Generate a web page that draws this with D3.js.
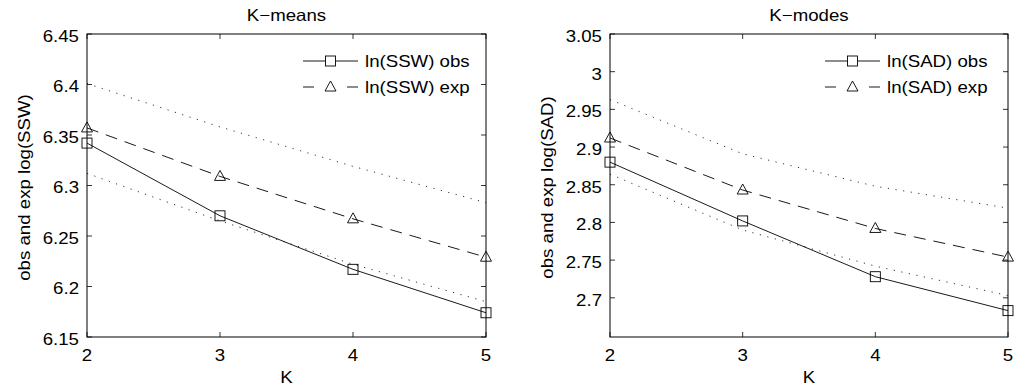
<!DOCTYPE html>
<html>
<head>
<meta charset="utf-8">
<script src="https://cdn.jsdelivr.net/npm/d3@7"></script>
<style>
  body { margin: 0; background: #fff; }
  text { font-family: "Liberation Sans", Arial, Helvetica, sans-serif; fill: #000; }
</style>
</head>
<body>
<script>
var width = 1015;
var height = 389;

// data
var kValues = [2, 3, 4, 5];

var sswObs   = [6.342, 6.270, 6.217, 6.174];
var sswExp   = [6.357, 6.309, 6.267, 6.229];
var sswUpper = [6.401, 6.358, 6.319, 6.283];
var sswLower = [6.312, 6.265, 6.222, 6.185];
var sswTicks = [6.15, 6.2, 6.25, 6.3, 6.35, 6.4, 6.45];

var sadObs   = [2.880, 2.802, 2.728, 2.683];
var sadExp   = [2.912, 2.843, 2.792, 2.754];
var sadUpper = [2.963, 2.891, 2.848, 2.819];
var sadLower = [2.864, 2.790, 2.742, 2.703];
var sadTicks = [2.7, 2.75, 2.8, 2.85, 2.9, 2.95, 3, 3.05];

var fontSize = 16.5;
var stretchX = 1.13;

var svg = d3.select("body")
            .append("svg")
            .attr("width", width)
            .attr("height", height);

// the reference text is a bit wider than Arial, stretch glyphs
function stretch(sel) {
  sel.each(function() {
    var w = this.getComputedTextLength();
    d3.select(this)
      .attr("textLength", w * stretchX)
      .attr("lengthAdjust", "spacingAndGlyphs");
  });
}

function drawPanel(opts) {
  var g = svg.append("g");
  var x = d3.scaleLinear().domain([2, 5]).range([opts.left, opts.right]);
  var y = d3.scaleLinear().domain(opts.yDomain).range([opts.bottom, opts.top]);

  // ticks (inward, on all four sides)
  var tickLen = 5;
  g.selectAll(".xtick")
   .data(kValues)
   .enter()
   .append("path")
   .attr("d", function(d) {
     return "M" + x(d) + "," + opts.bottom + "v" + (-tickLen) +
            "M" + x(d) + "," + opts.top + "v" + tickLen;
   })
   .attr("stroke", "#000")
   .attr("stroke-width", 0.8);

  g.selectAll(".ytick")
   .data(opts.yTicks)
   .enter()
   .append("path")
   .attr("d", function(d) {
     return "M" + opts.left + "," + y(d) + "h" + tickLen +
            "M" + opts.right + "," + y(d) + "h" + (-tickLen);
   })
   .attr("stroke", "#000")
   .attr("stroke-width", 0.8);

  // tick labels
  g.selectAll(".xlab")
   .data(kValues)
   .enter()
   .append("text")
   .attr("x", function(d) { return x(d); })
   .attr("y", opts.bottom + 24)
   .attr("text-anchor", "middle")
   .attr("font-size", fontSize)
   .text(function(d) { return d; })
   .call(stretch);

  g.selectAll(".ylab")
   .data(opts.yTicks)
   .enter()
   .append("text")
   .attr("x", opts.left - 8)
   .attr("y", function(d) { return y(d); })
   .attr("dy", "0.48em")
   .attr("text-anchor", "end")
   .attr("font-size", fontSize)
   .text(function(d) { return String(+d.toFixed(2)); })
   .call(stretch);

  // dotted band
  var line = d3.line()
               .x(function(d, i) { return x(kValues[i]); })
               .y(function(d) { return y(d); });

  [opts.upper, opts.lower].forEach(function(s) {
    g.append("path")
     .attr("d", line(s))
     .attr("fill", "none")
     .attr("stroke", "#333")
     .attr("stroke-width", 1)
     .attr("stroke-dasharray", "1.2,6.5");
  });

  g.append("path")
   .attr("d", line(opts.exp))
   .attr("fill", "none")
   .attr("stroke", "#000")
   .attr("stroke-width", 0.9)
   .attr("stroke-dasharray", "12,8");

  g.append("path")
   .attr("d", line(opts.obs))
   .attr("fill", "none")
   .attr("stroke", "#000")
   .attr("stroke-width", 0.9);

  // markers
  var tri = "M0,-6L5.5,4L-5.5,4Z";
  g.selectAll(".sq")
   .data(opts.obs)
   .enter()
   .append("rect")
   .attr("x", function(d, i) { return x(kValues[i]) - 5; })
   .attr("y", function(d) { return y(d) - 5; })
   .attr("width", 10)
   .attr("height", 10)
   .attr("fill", "none")
   .attr("stroke", "#000")
   .attr("stroke-width", 0.9);

  g.selectAll(".tri")
   .data(opts.exp)
   .enter()
   .append("path")
   .attr("d", tri)
   .attr("transform", function(d, i) {
     return "translate(" + x(kValues[i]) + "," + y(d) + ")";
   })
   .attr("fill", "none")
   .attr("stroke", "#000")
   .attr("stroke-width", 0.9);

  // frame
  g.append("rect")
   .attr("x", opts.left)
   .attr("y", opts.top)
   .attr("width", opts.right - opts.left)
   .attr("height", opts.bottom - opts.top)
   .attr("fill", "none")
   .attr("stroke", "#000")
   .attr("stroke-width", 1);

  // legend
  var lx = opts.right - 183;
  var rows = [
    { y: 61, label: opts.names[0], dash: null, marker: "sq" },
    { y: 87, label: opts.names[1], dash: "11,33", marker: "tri" }
  ];
  rows.forEach(function(r) {
    g.append("line")
     .attr("x1", lx).attr("x2", lx + 55)
     .attr("y1", r.y).attr("y2", r.y)
     .attr("stroke", "#000")
     .attr("stroke-width", 0.9)
     .attr("stroke-dasharray", r.dash);
    if (r.marker == "sq") {
      g.append("rect")
       .attr("x", lx + 27.5 - 5).attr("y", r.y - 5)
       .attr("width", 10).attr("height", 10)
       .attr("fill", "#fff").attr("stroke", "#000").attr("stroke-width", 0.9);
    } else {
      g.append("path")
       .attr("d", tri)
       .attr("transform", "translate(" + (lx + 27.5) + "," + r.y + ")")
       .attr("fill", "none").attr("stroke", "#000").attr("stroke-width", 0.9);
    }
    g.append("text")
     .attr("x", lx + 62)
     .attr("y", r.y + 6)
     .attr("font-size", fontSize)
     .text(r.label)
     .call(stretch);
  });

  // titles
  var cx = (opts.left + opts.right) / 2;
  g.append("text")
   .attr("x", cx).attr("y", 21)
   .attr("text-anchor", "middle")
   .attr("font-size", fontSize)
   .text(opts.title)
   .call(stretch);

  g.append("text")
   .attr("x", cx).attr("y", 383)
   .attr("text-anchor", "middle")
   .attr("font-size", fontSize)
   .text("K")
   .call(stretch);

  g.append("text")
   .attr("transform", "translate(" + opts.ylabX + "," + ((opts.top + opts.bottom) / 2 + 2) + ") rotate(-90)")
   .attr("text-anchor", "middle")
   .attr("font-size", fontSize)
   .text(opts.ylabel)
   .call(stretch);
}

drawPanel({
  left: 87, right: 486, top: 34, bottom: 337,
  yDomain: [6.15, 6.45], yTicks: sswTicks,
  obs: sswObs, exp: sswExp, upper: sswUpper, lower: sswLower,
  names: ["ln(SSW) obs", "ln(SSW) exp"],
  title: "K\u2212means",
  ylabel: "obs and exp log(SSW)",
  ylabX: 30
});

drawPanel({
  left: 610, right: 1008, top: 34, bottom: 337,
  yDomain: [2.648, 3.05], yTicks: sadTicks,
  obs: sadObs, exp: sadExp, upper: sadUpper, lower: sadLower,
  names: ["ln(SAD) obs", "ln(SAD) exp"],
  title: "K\u2212modes",
  ylabel: "obs and exp log(SAD)",
  ylabX: 553
});
</script>
</body>
</html>
